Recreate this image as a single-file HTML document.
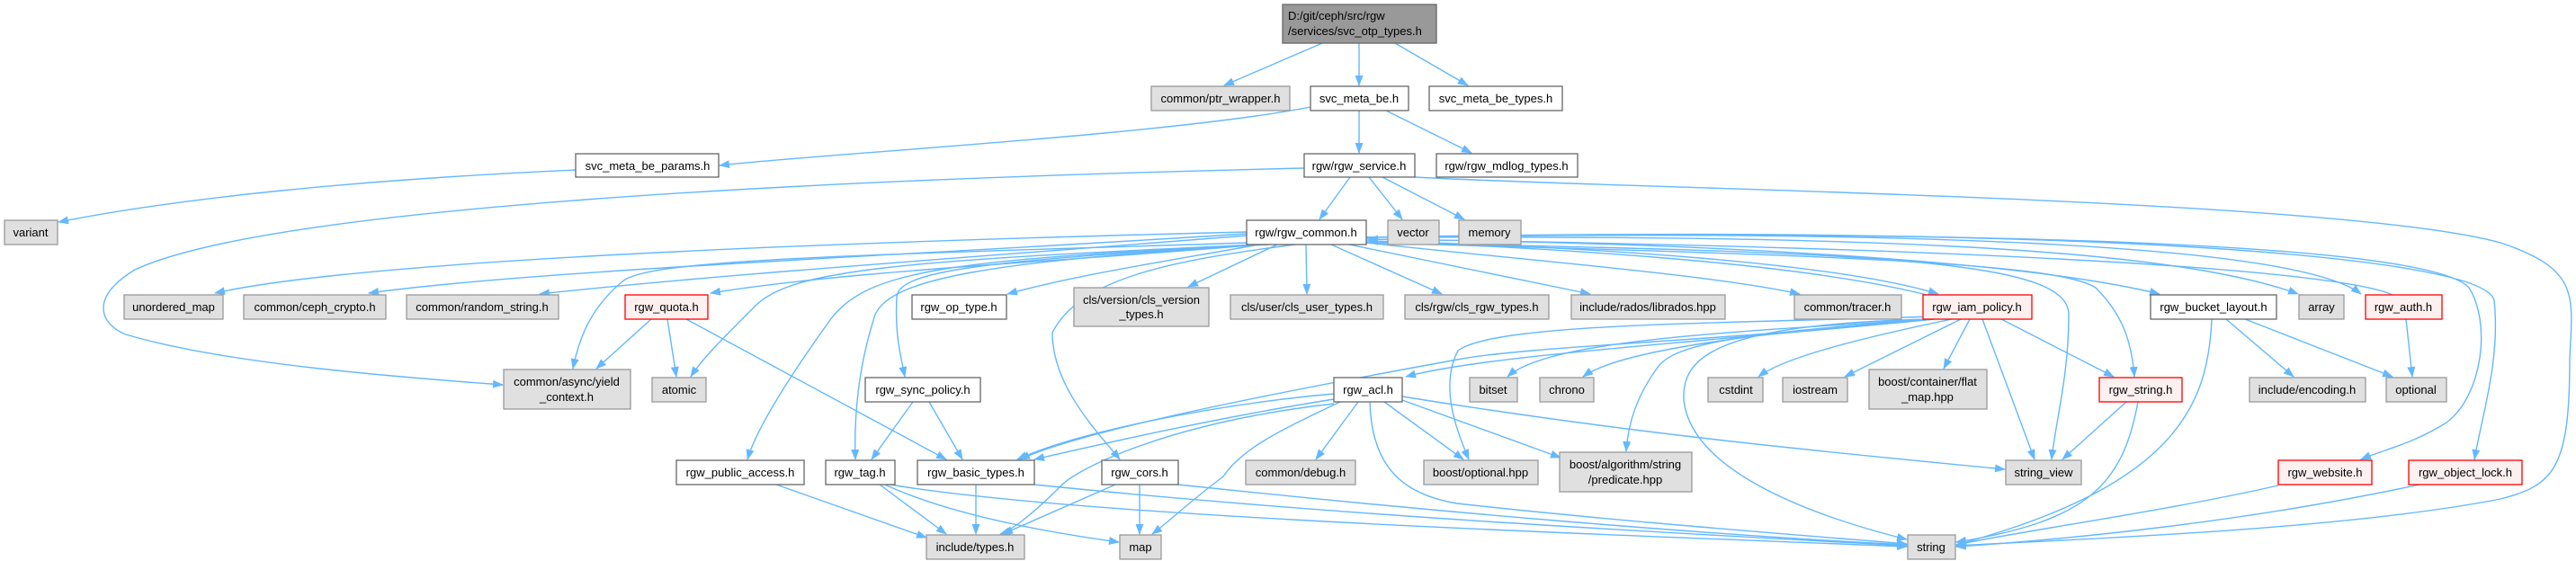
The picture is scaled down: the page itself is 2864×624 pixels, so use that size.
<!DOCTYPE html>
<html><head><meta charset="utf-8"><style>
html,body{margin:0;padding:0;background:#fff;}
svg{display:block;}
text{font-family:"Liberation Sans",Arial,sans-serif;font-size:13px;fill:#000;}
.e{fill:none;stroke:#63b8ff;stroke-width:1.4;marker-end:url(#a);}
.w{fill:#fff;stroke:#666;stroke-width:1.3;}
.g{fill:#e0e0e0;stroke:#999;stroke-width:1.3;}
.r{fill:#fff0f0;stroke:#f00;stroke-width:1.3;}
.k{fill:#999;stroke:#666;stroke-width:1.3;}
</style></head><body>
<svg width="2864" height="624" viewBox="0 0 2864 624" xmlns="http://www.w3.org/2000/svg">
<defs><marker id="a" markerUnits="userSpaceOnUse" markerWidth="12" markerHeight="9" refX="11" refY="4.5" orient="auto"><path d="M0,0 L12,4.5 L0,9 z" fill="#63b8ff"/></marker></defs>
<g>
<path class="e" d="M1470,48 L1361,95"/>
<path class="e" d="M1511,48 L1511,95"/>
<path class="e" d="M1551,48 L1632,95"/>
<path class="e" d="M1457,119 C1300,150 900,172 800,184"/>
<path class="e" d="M1511,123 L1511,170"/>
<path class="e" d="M1541,123 L1636,170"/>
<path class="e" d="M640,189 C400,200 200,220 65,247"/>
<path class="e" d="M1501,197 L1467,244"/>
<path class="e" d="M1522,197 L1559,244"/>
<path class="e" d="M1537,197 L1628,244"/>
<path class="e" d="M1450,187 C900,200 300,230 150,300 C100,330 110,360 140,372 C250,405 450,420 559,428"/>
<path class="e" d="M1573,197 C1800,210 2600,220 2780,270 C2870,300 2860,330 2857,400 C2857,520 2840,540 2780,555 C2600,590 2300,600 2175,607"/>
<path class="e" d="M1386,258 C900,270 400,290 239,326"/>
<path class="e" d="M1386,260 C1000,285 600,300 410,326"/>
<path class="e" d="M1386,262 C1100,285 800,305 600,327"/>
<path class="e" d="M1400,272 C1200,290 950,300 790,326"/>
<path class="e" d="M1390,270 C900,285 720,290 692,313 C660,340 645,370 637,410"/>
<path class="e" d="M1400,272 C1000,290 880,300 840,340 C800,380 780,400 768,419"/>
<path class="e" d="M1400,272 C1300,290 1200,305 1120,327"/>
<path class="e" d="M1420,272 L1321,319"/>
<path class="e" d="M1452,272 L1453,327"/>
<path class="e" d="M1480,272 L1603,327"/>
<path class="e" d="M1500,272 L1768,327"/>
<path class="e" d="M1519,270 C1700,290 1900,305 2001,327"/>
<path class="e" d="M1519,268 C1800,275 2050,295 2155,327"/>
<path class="e" d="M1519,266 C1900,270 2250,290 2401,327"/>
<path class="e" d="M1519,264 C2000,262 2400,270 2555,327"/>
<path class="e" d="M1519,264 C2100,255 2550,270 2625,327"/>
<path class="e" d="M2150,330 C2000,290 1700,275 1521,268"/>
<path class="e" d="M2660,328 C2600,300 2200,275 1521,266"/>
<path class="e" d="M1400,272 C1100,290 1000,300 997,330 C995,370 1000,390 1006,419"/>
<path class="e" d="M1400,272 C1050,290 960,300 920,360 C870,430 840,480 831,511"/>
<path class="e" d="M1410,272 C1100,290 990,310 973,350 C950,420 950,480 951,511"/>
<path class="e" d="M1440,272 C1300,290 1200,310 1170,370 C1170,430 1220,480 1245,511"/>
<path class="e" d="M1519,270 C2100,280 2300,290 2300,350 C2300,420 2285,470 2281,511"/>
<path class="e" d="M1519,270 C2100,285 2290,295 2330,320 C2360,350 2370,380 2373,419"/>
<path class="e" d="M1519,264 C2200,255 2700,270 2745,320 C2770,360 2760,440 2720,470 C2680,495 2650,500 2625,511"/>
<path class="e" d="M1519,264 C2250,250 2760,280 2773,334 C2780,400 2760,460 2751,511"/>
<path class="e" d="M2150,355 C1900,380 1650,395 1563,419"/>
<path class="e" d="M2150,355 C1900,370 1720,380 1676,419"/>
<path class="e" d="M2150,355 C1950,370 1800,390 1760,419"/>
<path class="e" d="M2170,355 C2050,380 1980,400 1955,419"/>
<path class="e" d="M2180,355 L2051,419"/>
<path class="e" d="M2190,355 L2161,410"/>
<path class="e" d="M2204,355 L2262,511"/>
<path class="e" d="M2225,355 L2350,419"/>
<path class="e" d="M2150,352 C1900,360 1660,360 1621,390 C1600,430 1620,480 1633,511"/>
<path class="e" d="M2150,355 C1950,370 1860,380 1842,410 C1820,440 1810,470 1808,502"/>
<path class="e" d="M2150,355 C1900,380 1700,385 1620,400 C1400,440 1200,480 1134,511"/>
<path class="e" d="M2150,355 C1900,360 1870,400 1872,445 C1880,520 2000,570 2120,600"/>
<path class="e" d="M2459,355 C2455,450 2420,540 2175,606"/>
<path class="e" d="M2475,355 L2550,419"/>
<path class="e" d="M2496,355 L2660,419"/>
<path class="e" d="M2675,355 L2682,419"/>
<path class="e" d="M2364,447 L2293,511"/>
<path class="e" d="M2377,447 C2360,540 2320,580 2175,603"/>
<path class="e" d="M2533,540 C2400,570 2250,590 2175,606"/>
<path class="e" d="M2690,539 C2500,580 2300,600 2175,608"/>
<path class="e" d="M724,355 L663,410"/>
<path class="e" d="M742,355 L752,419"/>
<path class="e" d="M763,355 L1052,511"/>
<path class="e" d="M1015,447 L969,511"/>
<path class="e" d="M1033,447 L1070,511"/>
<path class="e" d="M1483,438 C1350,450 1200,480 1131,511"/>
<path class="e" d="M1483,444 C1350,465 1220,495 1150,511"/>
<path class="e" d="M1483,449 C1300,470 1200,520 1180,540 C1150,570 1125,590 1112,594"/>
<path class="e" d="M1490,447 C1420,480 1380,500 1360,530 C1320,560 1300,580 1281,594"/>
<path class="e" d="M1510,447 L1463,511"/>
<path class="e" d="M1539,447 L1627,511"/>
<path class="e" d="M1559,445 L1735,509"/>
<path class="e" d="M1559,441 C1800,480 2000,500 2229,522"/>
<path class="e" d="M1523,447 C1525,520 1560,550 1620,560 C1800,580 2000,595 2120,605"/>
<path class="e" d="M863,539 L1030,598"/>
<path class="e" d="M978,539 L1052,594"/>
<path class="e" d="M984,539 C1050,570 1150,590 1244,603"/>
<path class="e" d="M990,539 C1200,575 1800,595 2120,608"/>
<path class="e" d="M1085,539 L1085,594"/>
<path class="e" d="M1150,539 C1500,575 1900,595 2120,607"/>
<path class="e" d="M1240,539 L1115,594"/>
<path class="e" d="M1267,539 L1267,594"/>
<path class="e" d="M1310,539 C1600,570 1900,595 2120,606"/>
</g>
<g text-anchor="middle">
<rect class="k" x="1426" y="5" width="171" height="43"/>
<text x="1432" y="22" text-anchor="start">D:/git/ceph/src/rgw</text>
<text x="1432" y="39" text-anchor="start">/services/svc_otp_types.h</text>
<rect class="g" x="1280" y="96" width="154" height="27"/><text x="1357" y="114">common/ptr_wrapper.h</text>
<rect class="w" x="1457" y="96" width="109" height="27"/><text x="1511" y="114">svc_meta_be.h</text>
<rect class="w" x="1589" y="96" width="148" height="27"/><text x="1663" y="114">svc_meta_be_types.h</text>
<rect class="w" x="640" y="171" width="159" height="26"/><text x="720" y="189">svc_meta_be_params.h</text>
<rect class="w" x="1450" y="171" width="123" height="26"/><text x="1511" y="189">rgw/rgw_service.h</text>
<rect class="w" x="1597" y="171" width="157" height="26"/><text x="1675" y="189">rgw/rgw_mdlog_types.h</text>
<rect class="g" x="5" y="245" width="59" height="27"/><text x="34" y="263">variant</text>
<rect class="w" x="1386" y="245" width="133" height="27"/><text x="1452" y="263">rgw/rgw_common.h</text>
<rect class="g" x="1543" y="245" width="57" height="27"/><text x="1571" y="263">vector</text>
<rect class="g" x="1622" y="245" width="69" height="27"/><text x="1656" y="263">memory</text>

<rect class="g" x="138" y="328" width="110" height="27"/><text x="193" y="346">unordered_map</text>
<rect class="g" x="271" y="328" width="158" height="27"/><text x="350" y="346">common/ceph_crypto.h</text>
<rect class="g" x="452" y="328" width="169" height="27"/><text x="536" y="346">common/random_string.h</text>
<rect class="r" x="695" y="328" width="92" height="27"/><text x="741" y="346">rgw_quota.h</text>
<rect class="w" x="1014" y="328" width="105" height="27"/><text x="1066" y="346">rgw_op_type.h</text>
<rect class="g" x="1194" y="320" width="150" height="43"/><text x="1269" y="338">cls/version/cls_version</text><text x="1269" y="354">_types.h</text>
<rect class="g" x="1368" y="328" width="170" height="27"/><text x="1453" y="346">cls/user/cls_user_types.h</text>
<rect class="g" x="1562" y="328" width="160" height="27"/><text x="1642" y="346">cls/rgw/cls_rgw_types.h</text>
<rect class="g" x="1747" y="328" width="171" height="27"/><text x="1832" y="346">include/rados/librados.hpp</text>
<rect class="g" x="1995" y="328" width="119" height="27"/><text x="2054" y="346">common/tracer.h</text>
<rect class="r" x="2138" y="328" width="121" height="27"/><text x="2198" y="346">rgw_iam_policy.h</text>
<rect class="w" x="2391" y="328" width="140" height="27"/><text x="2461" y="346">rgw_bucket_layout.h</text>
<rect class="g" x="2556" y="328" width="50" height="27"/><text x="2581" y="346">array</text>
<rect class="r" x="2630" y="328" width="85" height="27"/><text x="2672" y="346">rgw_auth.h</text>

<rect class="g" x="560" y="411" width="141" height="44"/><text x="630" y="429">common/async/yield</text><text x="630" y="446">_context.h</text>
<rect class="g" x="725" y="420" width="60" height="27"/><text x="755" y="438">atomic</text>
<rect class="w" x="962" y="420" width="128" height="27"/><text x="1026" y="438">rgw_sync_policy.h</text>
<rect class="w" x="1483" y="420" width="76" height="27"/><text x="1521" y="438">rgw_acl.h</text>
<rect class="g" x="1634" y="420" width="53" height="27"/><text x="1660" y="438">bitset</text>
<rect class="g" x="1712" y="420" width="60" height="27"/><text x="1742" y="438">chrono</text>
<rect class="g" x="1899" y="420" width="61" height="27"/><text x="1930" y="438">cstdint</text>
<rect class="g" x="1982" y="420" width="72" height="27"/><text x="2018" y="438">iostream</text>
<rect class="g" x="2078" y="411" width="131" height="44"/><text x="2143" y="429">boost/container/flat</text><text x="2143" y="446">_map.hpp</text>
<rect class="r" x="2334" y="420" width="92" height="27"/><text x="2380" y="438">rgw_string.h</text>
<rect class="g" x="2501" y="420" width="129" height="27"/><text x="2565" y="438">include/encoding.h</text>
<rect class="g" x="2653" y="420" width="67" height="27"/><text x="2686" y="438">optional</text>

<rect class="w" x="752" y="512" width="142" height="27"/><text x="823" y="530">rgw_public_access.h</text>
<rect class="w" x="918" y="512" width="77" height="27"/><text x="956" y="530">rgw_tag.h</text>
<rect class="w" x="1020" y="512" width="130" height="27"/><text x="1085" y="530">rgw_basic_types.h</text>
<rect class="w" x="1225" y="512" width="85" height="27"/><text x="1267" y="530">rgw_cors.h</text>
<rect class="g" x="1385" y="512" width="122" height="27"/><text x="1446" y="530">common/debug.h</text>
<rect class="g" x="1583" y="512" width="127" height="27"/><text x="1646" y="530">boost/optional.hpp</text>
<rect class="g" x="1734" y="503" width="147" height="44"/><text x="1807" y="521">boost/algorithm/string</text><text x="1807" y="538">/predicate.hpp</text>
<rect class="g" x="2230" y="512" width="84" height="27"/><text x="2272" y="530">string_view</text>
<rect class="r" x="2533" y="512" width="104" height="27"/><text x="2585" y="530">rgw_website.h</text>
<rect class="r" x="2678" y="512" width="126" height="27"/><text x="2741" y="530">rgw_object_lock.h</text>

<rect class="g" x="1030" y="595" width="109" height="27"/><text x="1084" y="613">include/types.h</text>
<rect class="g" x="1245" y="595" width="46" height="27"/><text x="1268" y="613">map</text>
<rect class="g" x="2121" y="595" width="53" height="27"/><text x="2147" y="613">string</text>
</g>
</svg>
</body></html>
